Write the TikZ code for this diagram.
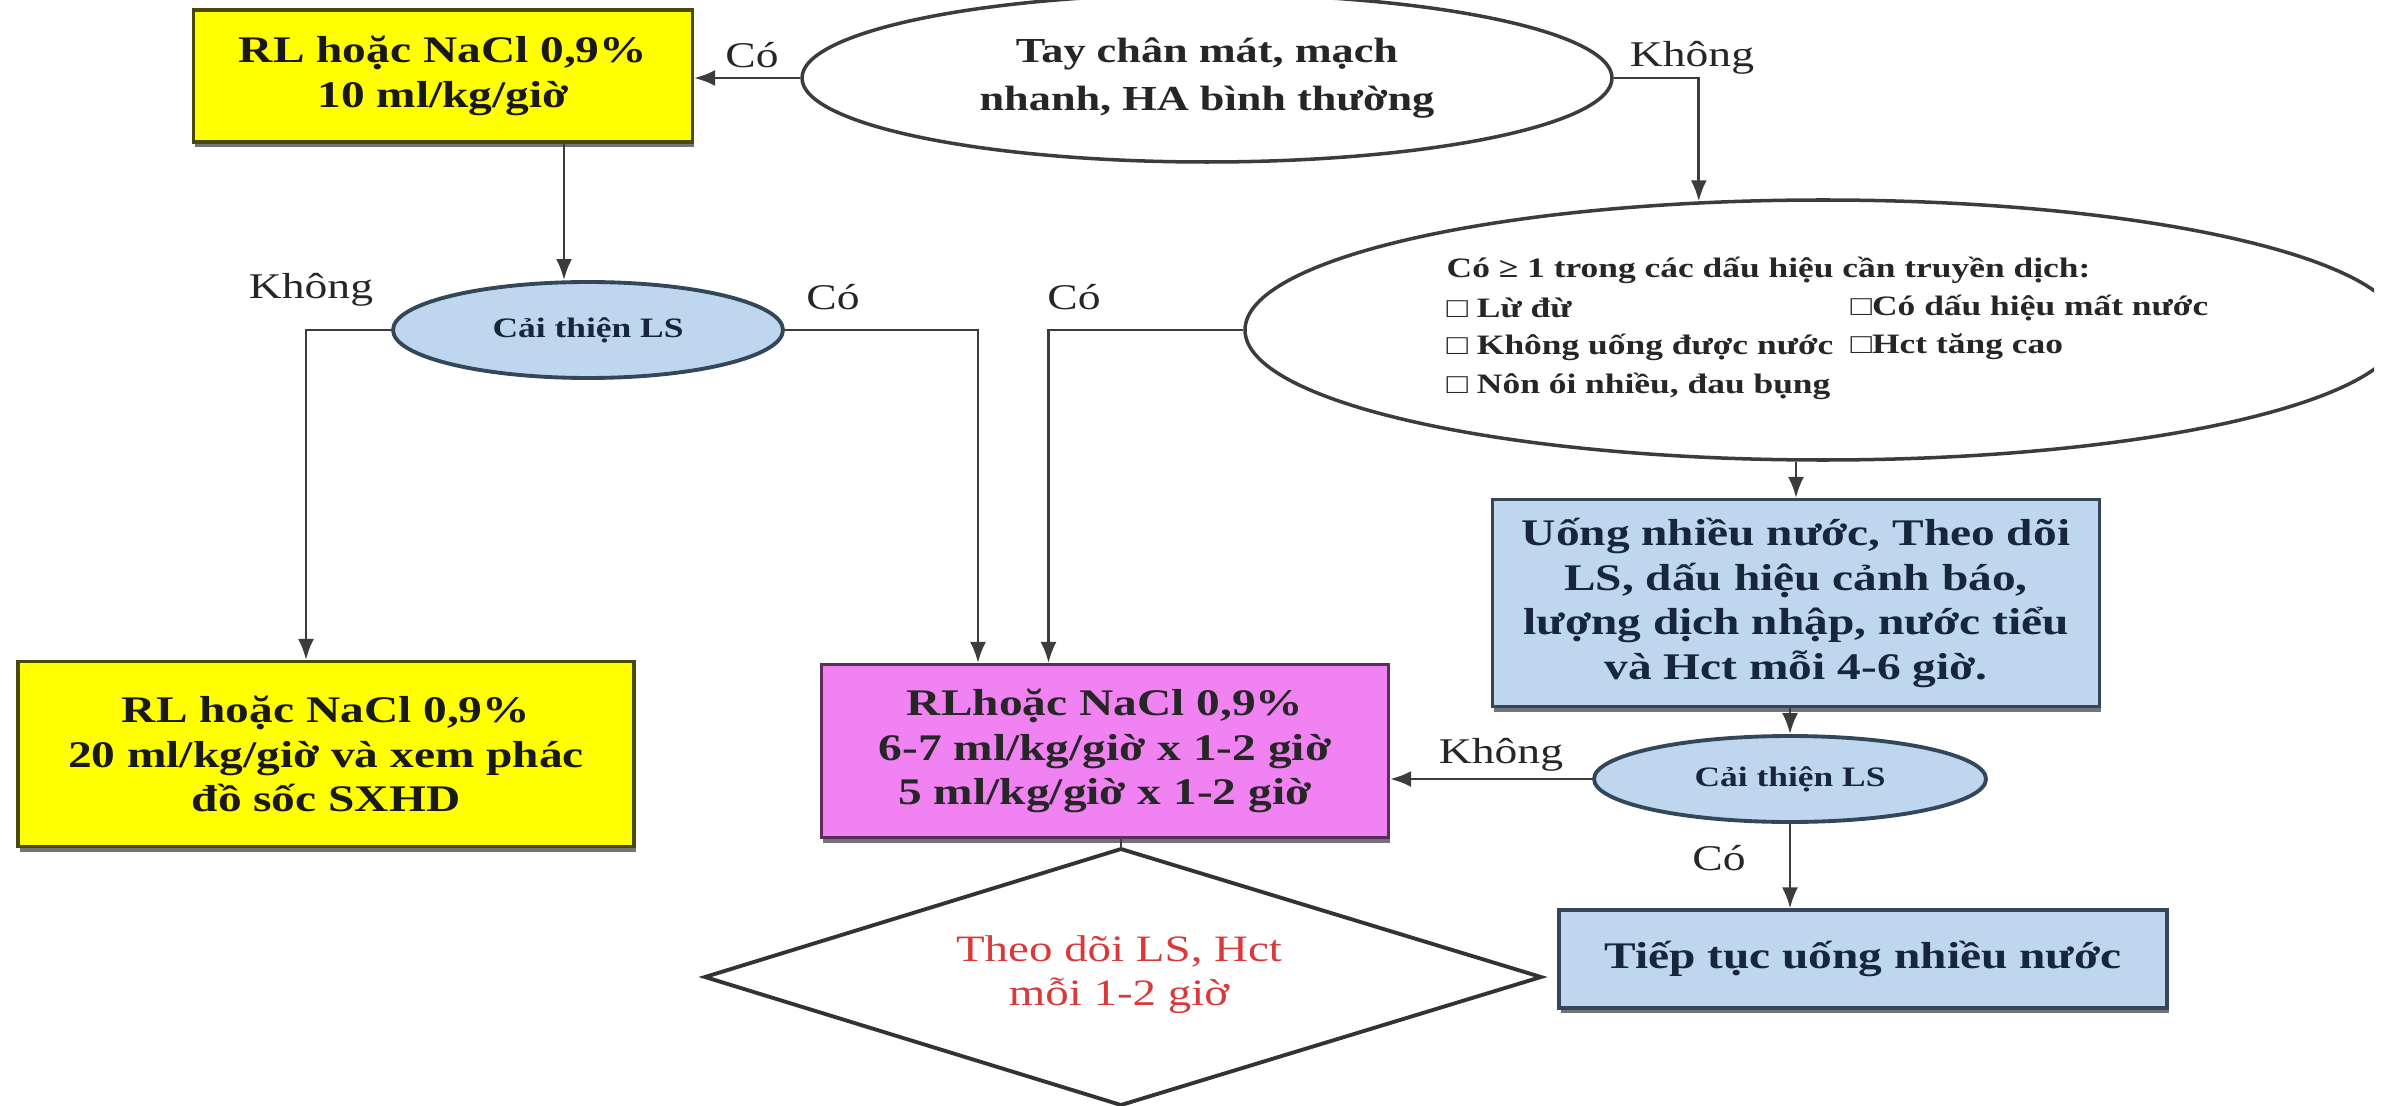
\documentclass[tikz,border=0pt]{standalone}
\usepackage{fontspec}
\setmainfont{Liberation Serif}[FakeStretch=1.26]
\usetikzlibrary{arrows.meta,shapes.geometric,shadows,calc}

\definecolor{boxyellow}{HTML}{FFFF00}
\definecolor{yellowdraw}{HTML}{4A4A08}
\definecolor{boxmagenta}{HTML}{F182F1}
\definecolor{magdraw}{HTML}{5A2E5A}
\definecolor{boxblue}{HTML}{BED6EE}
\definecolor{bluedraw}{HTML}{34475A}
\definecolor{bluetext}{HTML}{17263A}
\definecolor{linegray}{HTML}{3C3C3C}
\definecolor{notered}{HTML}{D83A3A}

\begin{document}
\begin{tikzpicture}[x=0.1mm, y=-0.1mm,
  conn/.style={draw=linegray, line width=0.75pt},
  arr/.style={conn, -{Latex[length=2.1mm,width=1.6mm]}},
  boxtext/.style={font=\bfseries\fontsize{10.7}{12.7}\selectfont, align=center},
  boxshadow/.style={drop shadow={shadow xshift=0.15mm, shadow yshift=-0.5mm, fill=black!55, opacity=1}},
  yellowbox/.style={rectangle, draw=yellowdraw, line width=0.9pt, fill=boxyellow, boxtext, text=black!90, boxshadow},
  magbox/.style={rectangle, draw=magdraw, line width=0.9pt, fill=boxmagenta, boxtext, text=black!85, boxshadow},
  bluebox/.style={rectangle, draw=bluedraw, line width=0.9pt, fill=boxblue, boxtext, text=bluetext, boxshadow},
  whiteell/.style={ellipse, draw=linegray, line width=1pt, fill=white, inner sep=0pt,
    font=\bfseries\fontsize{10}{13.4}\selectfont, align=center, text=black!85},
  blueell/.style={ellipse, draw=bluedraw, line width=1.1pt, fill=boxblue, inner sep=0pt,
    font=\bfseries\fontsize{8}{9.6}\selectfont, text=bluetext},
  lbl/.style={font=\fontsize{10.3}{12}\selectfont, text=black!85, inner sep=0pt},
  signtext/.style={font=\bfseries\fontsize{8}{10}\selectfont, text=black!85, inner sep=0pt, anchor=west},
  notetext/.style={font=\fontsize{10.6}{12.5}\selectfont, text=notered, align=center},
  rhombline/.style={draw=black!80, line width=1.1pt, line join=miter}
]
\path[use as bounding box, clip] (0,0) rectangle (2386,1105);

% top row
\node[yellowbox, minimum width=49.9mm, minimum height=13.2mm] (b1) at (443,76)
  {RL hoặc NaCl 0,9\%\\10 ml/kg/giờ};
\node[whiteell, minimum width=81mm, minimum height=16.8mm] (e1) at (1207,78)
  {Tay chân mát, mạch\\nhanh, HA bình thường};
\node[lbl] (lc1) at (752,55) {Có};
\node[lbl] (lk1) at (1692,58) {Không};

% warning-sign ellipse, cut at the right edge
\begin{scope}
  \clip (1200,150) rectangle (2374,520);
  \node[whiteell, minimum width=115.6mm, minimum height=26mm] (e2) at (1823,330) {};
\end{scope}
\node[signtext] (s1) at (1446,270) {Có ≥ 1 trong các dấu hiệu cần truyền dịch:};
\node[signtext] (s2) at (1446,308) {□ Lừ đừ};
\node[signtext] (s3) at (1850,308) {□Có dấu hiệu mất nước};
\node[signtext] (s4) at (1446,347) {□ Không uống được nước};
\node[signtext] (s5) at (1850,347) {□Hct tăng cao};
\node[signtext] (s6) at (1446,386) {□ Nôn ói nhiều, đau bụng};

% left decision
\node[blueell, minimum width=39mm, minimum height=9.6mm] (eL) at (588,330) {Cải thiện LS};
\node[lbl] (lk2) at (311,290) {Không};
\node[lbl] (lc2) at (833,297) {Có};
\node[lbl] (lc3) at (1074,297) {Có};

% fluid boxes
\node[yellowbox, minimum width=61.6mm, minimum height=18.5mm] (b2) at (326,754)
  {RL hoặc NaCl 0,9\%\\20 ml/kg/giờ và xem phác\\đồ sốc SXHD};
\node[magbox, minimum width=56.7mm, minimum height=17.3mm] (mg) at (1105,751)
  {RLhoặc NaCl 0,9\%\\6-7 ml/kg/giờ x 1-2 giờ\\5 ml/kg/giờ x 1-2 giờ};

% right column
\node[bluebox, minimum width=60.7mm, minimum height=20.7mm] (b3) at (1796,603)
  {Uống nhiều nước, Theo dõi\\LS, dấu hiệu cảnh báo,\\lượng dịch nhập, nước tiểu\\và Hct mỗi 4-6 giờ.};
\node[blueell, minimum width=39.2mm, minimum height=8.6mm] (eR) at (1790,779) {Cải thiện LS};
\node[lbl] (lk3) at (1501,755) {Không};
\node[lbl] (lc4) at (1719,858) {Có};
\node[bluebox, minimum width=60.8mm, minimum height=9.8mm] (bt) at (1863,959)
  {Tiếp tục uống nhiều nước};

% monitoring rhombus
\coordinate (dT) at (1121,849);
\coordinate (dR) at (1541,977);
\coordinate (dB) at (1121,1105);
\coordinate (dL) at (705,977);
\draw[rhombline] (dT) -- (dR) -- (dB) -- (dL) -- cycle;
\node[notetext] (dn) at (1119,975) {Theo dõi LS, Hct\\mỗi 1-2 giờ};

% connectors
\draw[arr] (e1.west) -- (e1.west -| b1.east);
\draw[arr] (e1.east) -| (e2.134);
\draw[arr] (b3.north |- e2.south) -- (b3.north);
\draw[arr] (e2.west) -| ([xshift=-5.65mm]mg.north);
\draw[arr] ([xshift=-2.4mm]eL.north |- b1.south) -- ([xshift=-2.4mm]eL.north);
\draw[arr] (eL.west) -| ([xshift=-2mm]b2.north);
\draw[arr] (eL.east) -| ([xshift=-12.7mm]mg.north);
\draw[arr] (b3.south -| eR.north) -- (eR.north);
\draw[arr] (eR.west) -- (eR.west -| mg.east);
\draw[arr] (eR.south) -- (eR.south |- bt.north);
\draw[conn] (dT |- mg.south) -- (dT);
\end{tikzpicture}
\end{document}
